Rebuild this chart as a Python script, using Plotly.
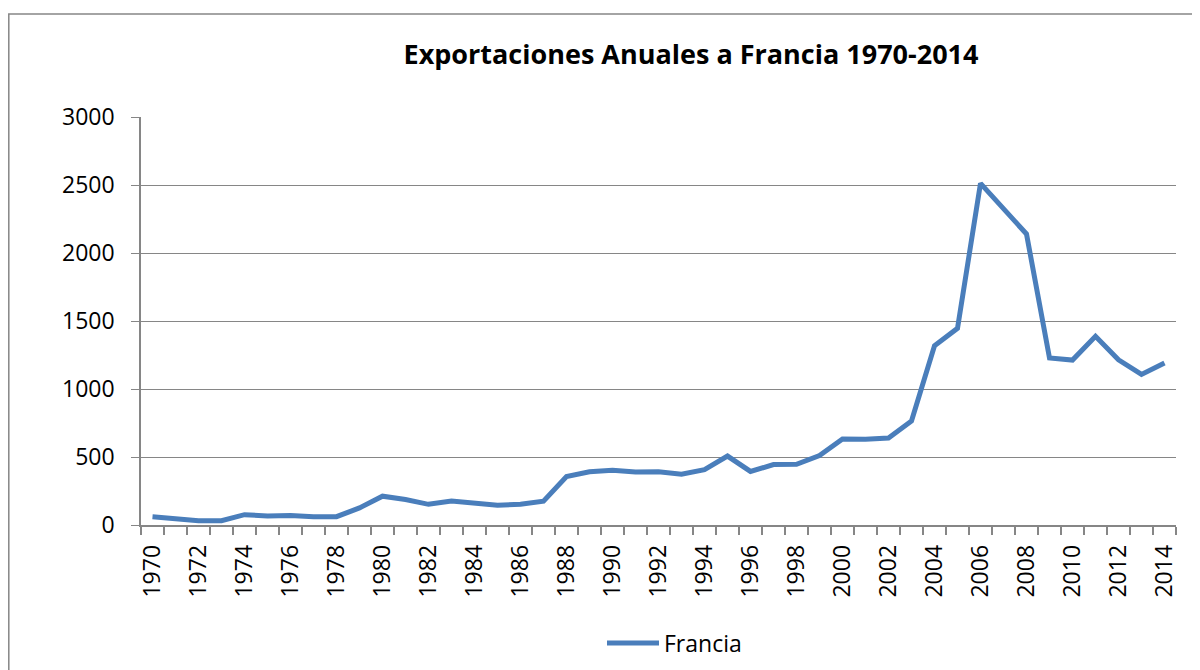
import plotly.graph_objects as go

years = list(range(1970, 2015))
francia = [61, 50, 32, 32, 76, 66, 70, 61, 61, 126, 212, 187, 152, 177, 165, 145, 152, 175,
           357, 392, 402, 389, 391, 374, 407, 507, 394, 444, 446, 510, 633, 631, 640, 765,
           1318, 1446, 2512, 2324, 2140, 1228, 1213, 1387, 1215, 1107, 1191]
tick_years = list(range(1970, 2015, 2))
title_text = "Exportaciones Anuales a Francia 1970-2014"
series_name = "Francia"

FONT = "Open Sans"
OFF = 8  # browser body margin
W, H = 1200 - OFF, 670 - OFF
L = 141 - OFF
T = 117 - OFF
R = 1200 - 1176
B = 670 - 525
pw, ph = W - L - R, H - T - B
COLOR = "#4A7EBB"
GRAY = "#868686"


def px(xp):
    return (xp - OFF - L) / pw


def py(yp):
    return (T + ph - (yp - OFF)) / ph


fig = go.Figure()
fig.add_trace(go.Scatter(x=years, y=francia, mode="lines", name=series_name,
                         line=dict(color=COLOR, width=5), showlegend=False))

fig.update_layout(
    width=W, height=H,
    margin=dict(l=L, r=R, t=T, b=B),
    paper_bgcolor="white", plot_bgcolor="white",
    font=dict(family=FONT, color="black"),
    title=dict(text="<b>" + title_text + "</b>", x=(691 - OFF) / W, xanchor="center",
               y=1 - (55 - OFF) / H, yanchor="middle", font=dict(size=27, family=FONT)),
    showlegend=False,
    xaxis=dict(range=[1969.5, 2014.5], tickmode="array", tickvals=tick_years,
               ticktext=[str(y) for y in tick_years], tickangle=-90, ticks="",
               showgrid=False, showline=True, linecolor=GRAY, linewidth=1.5,
               tickfont=dict(size=23), zeroline=False, ticklabelstandoff=9,
               minor=dict(ticks="outside", tick0=1969.5, dtick=1, ticklen=8,
                          tickcolor=GRAY, tickwidth=1.5, showgrid=False)),
    yaxis=dict(range=[0, 3000], dtick=500, tick0=0, showgrid=True, gridcolor=GRAY,
               gridwidth=1.2, showline=True, linecolor=GRAY, linewidth=1.5,
               ticks="outside", ticklen=8, tickcolor=GRAY, tickfont=dict(size=23),
               zeroline=False, ticklabelstandoff=12),
    shapes=[
        dict(type="rect", xref="paper", yref="paper",
             x0=px(OFF + 0.8), x1=px(1215), y0=py(680), y1=py(14),
             line=dict(color=GRAY, width=1.5), layer="below"),
        dict(type="line", xref="paper", yref="paper",
             x0=px(607), x1=px(659), y0=py(643), y1=py(643),
             line=dict(color=COLOR, width=5)),
    ],
    annotations=[dict(text=series_name, xref="paper", yref="paper", x=px(662), y=py(643),
                      xanchor="left", yanchor="middle", showarrow=False,
                      font=dict(size=23, family=FONT, color="black"))],
)

fig.write_html("out.html")
